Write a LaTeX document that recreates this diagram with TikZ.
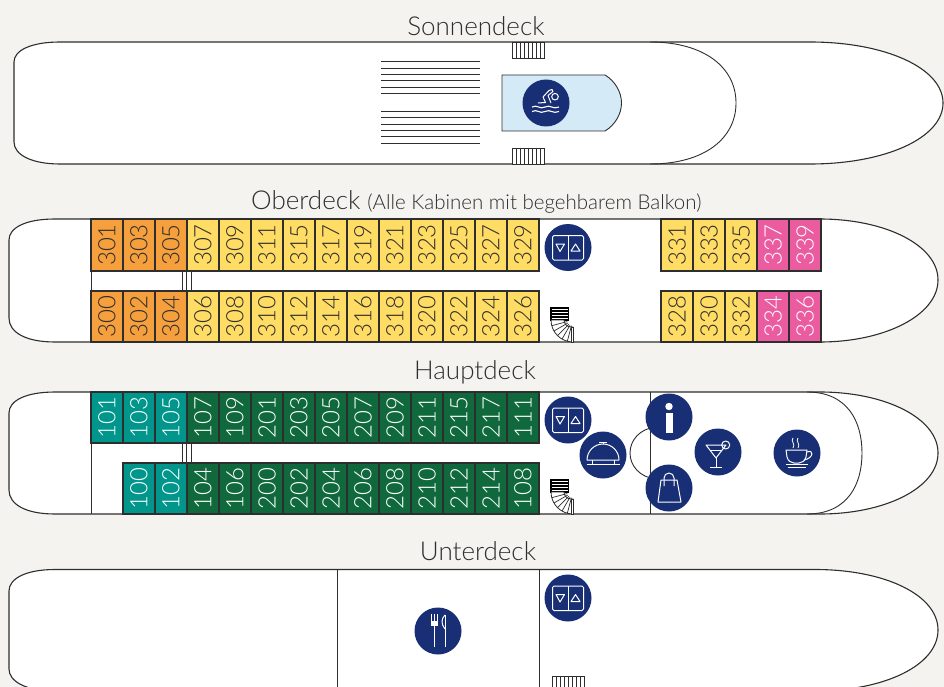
\documentclass[tikz,border=0pt]{standalone}
\usepackage{fontspec}
\setmainfont{Lato Light}
\definecolor{bgc}{HTML}{F4F3EF}
\definecolor{navy}{HTML}{182F75}
\definecolor{orangec}{HTML}{F5A03C}
\definecolor{yellowc}{HTML}{FFDC64}
\definecolor{pinkc}{HTML}{EA5B9F}
\definecolor{tealc}{HTML}{00968C}
\definecolor{greenc}{HTML}{10693C}
\definecolor{poolc}{HTML}{D4EBF7}
\definecolor{linec}{HTML}{2E2E2E}
\tikzset{
 hull/.style={draw=linec,line width=1.1pt,fill=white},
 thin line/.style={draw=linec,line width=0.9pt},
 cabin/.style={draw=linec,line width=1.1pt,minimum width=32pt,minimum height=#1,inner sep=0pt,outer sep=0pt,anchor=north west},
 cabintext/.style={rotate=90,font=\fontsize{24}{24}\selectfont},
 decktitle/.style={font=\fontsize{26}{26}\selectfont,text=linec,inner sep=0pt},
 iconbg/.style={circle,fill=navy,minimum size=47pt,inner sep=0pt,outer sep=0pt},
 ic/.style={draw=white,line width=1pt,line join=round},
}
\newcommand{\cabinrow}[6]{% x start, y, height, fill, text colour, list
 \foreach \n [count=\i from 0] in {#6} {
  \node[cabin=#3,fill=#4,text=#5] (c\n) at ({#1+32*\i},#2) {};
  \node[cabintext,text=#5] (t\n) at (c\n.center) {\n};
 }
}
\newcommand{\lifticon}[1]{%
 \draw[ic,rounded corners=1.5pt] ([shift={(-15.5,-12)}]#1.center) rectangle ([shift={(15.5,12.5)}]#1.center);
 \draw[ic] ([shift={(0,-12)}]#1.center) -- ([shift={(0,12.5)}]#1.center);
 \draw[ic] ([shift={(-12,-3.5)}]#1.center) -- ([shift={(-3.5,-3.5)}]#1.center) -- ([shift={(-8,4)}]#1.center) -- cycle;
 \draw[ic] ([shift={(3,3.5)}]#1.center) -- ([shift={(12,3.5)}]#1.center) -- ([shift={(7.5,-3.5)}]#1.center) -- cycle;
}
\newcommand{\straightstairs}[2]{% x,y top
 \draw[thin line,fill=white] (#1,#2) rectangle ++(32,16);
 \foreach \k in {1,...,7} \draw[thin line] ({#1+\k*4},#2) -- ++(0,16);
}
\newcommand{\curvestairs}[2]{% x,y top-left of the straight flight
 \draw[line width=1.2pt,black] (#1,#2) rectangle ++(17.5,12);
 \foreach \k in {1,2,3} \draw[line width=1.2pt,black] (#1,{#2+\k*3}) -- ++(17.5,0);
 \draw[line width=0.8pt,linec,fill=white] (#1,{#2+12}) arc[start angle=180,end angle=90,radius=22] -- ++(0,-15) -- ++(-2,0) arc[start angle=90,end angle=180,radius=7] -- ++(-3,0) -- cycle;
 \foreach \a in {105,120,135,150,165} \draw[line width=0.7pt,linec] ({#1+22+22*cos(\a)},{#2+12+22*sin(\a)}) -- ({#1+22+6*cos(\a)},{#2+12+6*sin(\a)});
 \draw[line width=0.8pt,linec,fill=white] ({#1+20},{#2+19}) rectangle ({#1+22.5},{#2+34});
}
\begin{document}
\begin{tikzpicture}[x=1pt,y=-1pt]
\useasboundingbox[fill=bgc] (0,0) rectangle (944,687);
\begin{scope}
\clip (0,0) rectangle (944,687);
% Sonnendeck
\node[decktitle] (t1) at (476,26) {Sonnendeck};
\draw[hull] (60,42) -- (810,42) .. controls (885,42) and (943,68) .. (943,103) .. controls (943,138) and (885,164) .. (810,164) -- (60,164) .. controls (32,164) and (14,155) .. (14,142) -- (14,62) .. controls (14,50) and (32,42) .. (60,42) -- cycle;
\draw[thin line] (650,42) .. controls (705,42) and (736,68) .. (736,103) .. controls (736,138) and (705,164) .. (650,164);
\straightstairs{512}{42}
\straightstairs{512}{148}
\foreach \yy in {62,68.5,75,81,87.5,94,111.5,118,124.5,131,137,144} \draw[line width=1pt,linec] (381,\yy) -- (480,\yy);
\draw[draw=linec,line width=0.9pt,fill=poolc] (502,75) -- (605,75) .. controls (615,81) and (621.5,92) .. (621.5,103) .. controls (621.5,114) and (615,125) .. (605,131) -- (502,131) -- cycle;
\node[iconbg] (swim) at (546,103) {};
\draw[ic,line width=1pt] (538,103) -- (545.5,102.5) -- (543,97) -- (549,90.5) -- (552,89.5) -- (553,91.5) -- (548,95.5) -- (551,103);
\draw[ic,line width=1pt] (555,96.7) circle (3.3);
\draw[ic,line width=1.1pt] (532,107) .. controls (537,104) and (540,110) .. (545,107) .. controls (550,104) and (553,110) .. (559,107);
\draw[ic,line width=1.1pt] (532,111.5) .. controls (537,108.5) and (540,114.5) .. (545,111.5) .. controls (550,108.5) and (553,114.5) .. (559,111.5);
% Oberdeck
\node[anchor=base west,inner sep=0pt,text=linec] (t2) at (251,209) {\fontsize{26}{26}\selectfont Oberdeck \fontsize{20.5}{20.5}\selectfont (Alle Kabinen mit begehbarem Balkon)};
\draw[hull] (55,219) -- (820,219) .. controls (885,219) and (938,245) .. (938,280) .. controls (938,315) and (885,342) .. (820,342) -- (55,342) .. controls (25,342) and (9,332) .. (9,318) -- (9,240) .. controls (9,228) and (25,219) .. (55,219) -- cycle;
\draw[thin line] (91,271) -- (91,291);
\cabinrow{91}{219}{52pt}{orangec}{linec}{301,303,305}
\cabinrow{187}{219}{52pt}{yellowc}{linec}{307,309,311,315,317,319,321,323,325,327,329}
\cabinrow{91}{291}{51pt}{orangec}{linec}{300,302,304}
\cabinrow{187}{291}{51pt}{yellowc}{linec}{306,308,310,312,314,316,318,320,322,324,326}
\cabinrow{661}{219}{52pt}{yellowc}{linec}{331,333,335}
\cabinrow{757}{219}{52pt}{pinkc}{white}{337,339}
\cabinrow{661}{291}{51pt}{yellowc}{linec}{328,330,332}
\cabinrow{757}{291}{51pt}{pinkc}{white}{334,336}
\draw[thin line,line width=0.7pt] (182,271) -- (182,291) (186,271) -- (186,291) (191,271) -- (191,291);
\node[iconbg] (lift1) at (568,247.5) {};
\lifticon{lift1}
\curvestairs{551}{308}
% Hauptdeck
\node[decktitle] (t3) at (475,372) {Hauptdeck};
\draw[hull] (55,392) -- (820,392) .. controls (885,392) and (938,418) .. (938,453) .. controls (938,488) and (885,514) .. (820,514) -- (55,514) .. controls (25,514) and (9,504) .. (9,490) -- (9,413) .. controls (9,401) and (25,392) .. (55,392) -- cycle;
\draw[thin line] (807,392) .. controls (848,392) and (862,422) .. (862,453) .. controls (862,484) and (848,514) .. (807,514);
\draw[thin line] (91,392) -- (91,514);
\draw[thin line] (650,392) -- (650,514);
\draw[thin line] (655,427) .. controls (640,429) and (630,440) .. (630,453) .. controls (630,466) and (640,477) .. (655,479);
\cabinrow{91}{392}{51pt}{tealc}{white}{101,103,105}
\cabinrow{187}{392}{51pt}{greenc}{white}{107,109,201,203,205,207,209,211,215,217,111}
\cabinrow{123}{463}{51pt}{tealc}{white}{100,102}
\cabinrow{187}{463}{51pt}{greenc}{white}{104,106,200,202,204,206,208,210,212,214,108}
\draw[thin line,line width=0.7pt] (182,443) -- (182,463) (186,443) -- (186,463) (191,443) -- (191,463);
\node[iconbg] (lift2) at (568,420) {};
\lifticon{lift2}
\curvestairs{551}{480}
\node[iconbg] (cloche) at (603,455) {};
\draw[ic] (587,460) arc[start angle=180,end angle=360,radius=16] -- cycle;
\draw[ic] (586.5,464) -- (620,464) (592,460) -- (592,464) (614,460) -- (614,464) (603,444) -- (603,442) (599,442) -- (607,442);
\node[iconbg] (info) at (669,417) {};
\fill[white] (669,406.5) circle (3.7);
\fill[white] (666,413) rectangle (673,433);
\node[iconbg] (shop) at (669,488) {};
\draw[ic] (661,480) -- (677,480) -- (681,502) -- (658,502) -- cycle;
\draw[ic] (664,486) -- (664,478) arc[start angle=180,end angle=360,radius=5] -- (674,486);
\node[iconbg] (cocktail) at (718,452) {};
\draw[ic] (706,445) -- (726,445) -- (716,458) -- cycle;
\draw[ic] (716,458) -- (716,467) (710,467) -- (722,467);
\draw[ic] (725.7,445) circle (4);
\draw[ic] (710,450) -- (722,450);
\node[iconbg] (coffee) at (797,453) {};
\draw[ic] (786,450) -- (807,450) -- (806,457) .. controls (805,461) and (802,463) .. (799,463) -- (794,463) .. controls (791,463) and (788,461) .. (787,457) -- cycle;
\draw[ic] (807,452) .. controls (814,449) and (814,458) .. (804,460);
\draw[ic] (786,464.5) -- (808,464.5) (788,467.5) -- (806,467.5);
\draw[ic,line width=.8pt] (793,438) .. controls (790,441) and (796,444) .. (793,448);
\draw[ic,line width=.8pt] (798,438) .. controls (795,441) and (801,444) .. (798,448);
% Unterdeck
\node[decktitle] (t4) at (478,551) {Unterdeck};
\draw[hull] (55,569.5) -- (815,569.5) .. controls (885,569.5) and (938,595) .. (938,630) .. controls (938,665) and (885,691) .. (815,691) -- (55,691) .. controls (25,691) and (9,681) .. (9,669) -- (9,591) .. controls (9,579) and (25,569.5) .. (55,569.5) -- cycle;
\draw[thin line] (337,569.5) -- (337,687);
\draw[thin line] (539,569.5) -- (539,687);
\node[iconbg] (lift3) at (568,598) {};
\lifticon{lift3}
\node[iconbg] (dining) at (438,631) {};
\draw[ic,line width=.8pt] (431.5,614) -- (431.5,623) (434.2,614) -- (434.2,623) (437,614) -- (437,623);
\fill[white] (431,621) rectangle (437.5,625.5);
\draw[ic,line width=1.2pt] (434.2,625) -- (434.2,647);
\draw[ic] (445,614.5) -- (445,647);
\draw[ic] (445,615) .. controls (441,619) and (441,624) .. (445,629);
\draw[thin line,fill=white] (552.5,676) rectangle ++(32,16);
\foreach \k in {1,...,7} \draw[thin line] ({552.5+\k*4},676) -- ++(0,11);
\end{scope}
\end{tikzpicture}
\end{document}
